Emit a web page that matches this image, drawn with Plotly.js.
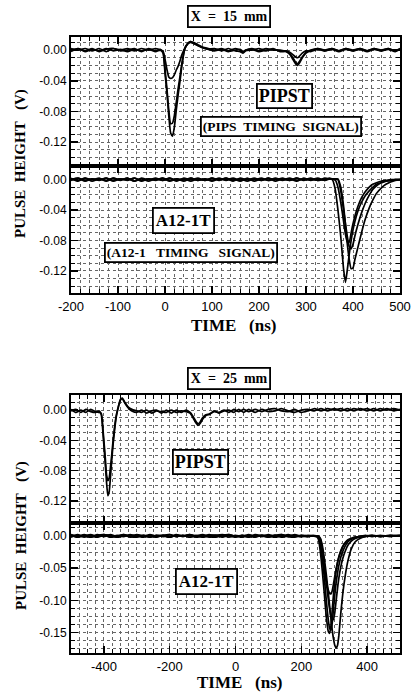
<!DOCTYPE html>
<html>
<head>
<meta charset="utf-8">
<script src="https://cdn.plot.ly/plotly-3.0.1.min.js"></script>
<style>html,body{margin:0;padding:0;background:#fff;}#chart{width:411px;height:692px;}</style>
</head>
<body>
<div id="chart"></div>
<script>
// ---------- Figure 1 (X = 15 mm) : PIPST panel ----------
const t1 = [-200,-185,-170,-155,-140,-125,-110,-95,-80,-65,
            -50,-35,-20,-10,-4,0,4,8,12,16,
            20,24,28,32,36,42,48,54,60,70,
            80,92,105,120,135,150,160,166,172,185,
            200,215,230,245,258,266,272,278,282,286,
            292,300,310,325,340,355,370,385,400,415,
            430,445,460,475,490,500];
const pips15A = [0.002,0.000,0.002,-0.001,0.002,-0.002,0.002,0.000,0.002,-0.001,
                 0.002,0.000,0.002,0.000,-0.004,-0.030,-0.055,-0.085,-0.108,-0.112,
                 -0.100,-0.078,-0.058,-0.040,-0.020,0.002,0.008,0.011,0.010,0.007,
                 0.004,0.002,0.000,0.002,-0.001,0.002,0.000,-0.003,0.000,0.002,
                 -0.001,0.002,0.000,0.000,-0.002,-0.006,-0.012,-0.018,-0.020,-0.017,
                 -0.010,-0.004,-0.001,0.002,0.000,0.002,-0.001,0.002,0.000,0.002,
                 -0.001,0.002,0.000,0.002,-0.001,0.001];
const pips15B = [-0.002,0.002,-0.001,0.002,-0.002,0.001,0.002,-0.001,0.000,0.002,
                 -0.002,0.002,-0.001,0.001,-0.003,-0.025,-0.050,-0.078,-0.096,-0.095,
                 -0.085,-0.068,-0.050,-0.034,-0.017,0.001,0.008,0.011,0.009,0.006,
                 0.003,0.001,0.002,-0.001,0.002,-0.001,-0.002,-0.004,-0.001,0.000,
                 0.002,-0.001,0.002,-0.002,-0.002,-0.005,-0.010,-0.016,-0.018,-0.015,
                 -0.009,-0.003,0.000,0.002,-0.001,0.002,-0.001,0.002,-0.001,0.002,
                 -0.001,0.002,-0.001,0.002,-0.001,0.002];
const pips15C = [0.000,0.002,-0.002,0.001,-0.001,0.002,-0.001,0.001,-0.002,0.001,
                 -0.001,0.001,-0.002,0.000,-0.002,-0.012,-0.025,-0.035,-0.037,-0.036,
                 -0.032,-0.026,-0.021,-0.014,-0.006,0.002,0.008,0.010,0.009,0.006,
                 0.003,0.001,-0.001,0.001,-0.002,0.000,0.001,-0.002,0.000,0.001,
                 -0.002,0.000,0.001,-0.001,-0.001,-0.003,-0.006,-0.009,-0.010,-0.008,
                 -0.004,-0.001,-0.002,0.001,-0.001,0.001,-0.002,0.001,-0.001,0.001,
                 -0.002,0.001,-0.001,0.001,-0.002,0.001];

// ---------- Figure 1 (X = 15 mm) : A12-1T panel ----------
const t2 = [-200,-185,-170,-155,-140,-125,-110,-95,-80,-65,
            -50,-35,-20,-5,10,25,40,55,70,85,
            100,115,130,145,160,175,190,205,220,235,
            250,265,280,295,310,325,340,350,356,362,
            368,374,380,384,388,392,396,400,404,410,
            418,426,434,442,450,460,470,480,490,500];
const a1215A = [0.002,-0.002,0.002,0.000,0.002,-0.002,0.002,0.000,0.002,-0.002,
                0.002,0.000,0.002,-0.001,0.002,-0.002,0.002,0.000,0.002,-0.001,
                0.002,0.000,0.002,-0.002,0.002,0.000,0.002,-0.001,0.002,0.000,
                0.002,-0.001,0.002,0.000,0.002,-0.001,0.002,0.001,0.000,-0.012,
                -0.040,-0.075,-0.118,-0.135,-0.118,-0.098,-0.080,-0.066,-0.055,-0.042,
                -0.030,-0.021,-0.015,-0.010,-0.006,-0.004,-0.002,-0.001,0.000,0.000];
const a1215B = [-0.001,0.002,-0.002,0.001,-0.001,0.002,-0.002,0.001,-0.001,0.002,
                -0.002,0.001,-0.001,0.002,-0.001,0.001,-0.002,0.002,-0.001,0.001,
                -0.001,0.002,-0.001,0.001,-0.002,0.002,-0.002,0.001,-0.001,0.002,
                -0.001,0.001,-0.002,0.002,-0.001,0.001,-0.001,0.002,0.001,0.000,
                -0.010,-0.030,-0.055,-0.072,-0.082,-0.082,-0.070,-0.058,-0.048,-0.036,
                -0.024,-0.016,-0.010,-0.006,-0.004,-0.002,-0.001,0.000,0.000,0.000];
const a1215C = [0.001,-0.001,0.002,-0.002,0.001,-0.001,0.002,-0.001,0.002,-0.002,
                0.001,-0.002,0.001,-0.001,0.002,-0.001,0.001,-0.002,0.001,-0.001,
                0.002,-0.001,0.002,-0.001,0.001,-0.002,0.001,-0.001,0.002,-0.002,
                0.001,-0.001,0.002,-0.001,0.001,-0.001,0.001,0.001,0.001,0.001,
                0.000,-0.015,-0.040,-0.058,-0.075,-0.088,-0.091,-0.085,-0.074,-0.060,
                -0.044,-0.031,-0.021,-0.013,-0.008,-0.004,-0.002,-0.001,0.000,0.000];
const a1215D = [0.000,0.002,-0.001,0.001,0.000,0.002,-0.001,0.001,0.000,0.002,
                -0.001,0.001,0.000,0.002,-0.002,0.001,0.000,0.002,-0.001,0.001,
                -0.002,0.001,0.000,0.002,-0.001,0.001,0.000,0.002,-0.001,0.001,
                0.000,0.002,-0.001,0.001,0.000,0.002,-0.001,0.001,0.001,0.001,
                0.001,-0.010,-0.035,-0.060,-0.085,-0.105,-0.117,-0.116,-0.105,-0.090,
                -0.070,-0.052,-0.038,-0.027,-0.018,-0.011,-0.006,-0.003,-0.001,0.000];

// ---------- Figure 2 (X = 25 mm) : PIPST panel ----------
const t3 = [-500,-485,-470,-455,-440,-425,-415,-408,-402,-396,
            -392,-388,-384,-380,-376,-372,-368,-362,-356,-350,
            -344,-336,-326,-315,-300,-285,-270,-255,-240,-225,
            -210,-195,-180,-165,-150,-138,-128,-120,-114,-108,
            -100,-90,-80,-65,-50,-35,-20,-5,10,25,
            40,60,80,100,120,140,160,180,200,220,
            240,260,280,300,320,340,360,380,400,420,
            440,460,480,500];
const pips25A = [-0.001,0.001,-0.003,0.001,-0.002,-0.003,-0.001,-0.006,-0.035,-0.070,
                 -0.095,-0.113,-0.108,-0.088,-0.065,-0.045,-0.028,-0.008,0.004,0.014,
                 0.016,0.010,0.004,0.001,-0.001,-0.003,0.000,-0.004,-0.001,-0.002,
                 -0.003,0.000,-0.003,-0.001,-0.002,-0.004,-0.011,-0.017,-0.020,-0.018,
                 -0.012,-0.007,-0.005,-0.002,-0.003,0.000,-0.003,0.001,-0.002,0.001,
                 -0.002,0.001,-0.002,0.001,0.002,-0.001,-0.002,0.001,-0.003,-0.001,
                 0.002,-0.001,0.002,0.000,0.002,-0.001,0.002,0.000,0.002,-0.001,
                 0.002,0.000,0.002,0.000];
const pips25B = [0.001,-0.003,0.000,-0.003,0.001,-0.002,-0.003,-0.004,-0.030,-0.062,
                 -0.085,-0.093,-0.090,-0.075,-0.058,-0.040,-0.024,-0.006,0.005,0.013,
                 0.015,0.009,0.003,-0.001,-0.003,0.000,-0.004,-0.001,0.000,-0.004,
                 0.000,-0.004,0.000,-0.003,0.000,-0.003,-0.009,-0.015,-0.018,-0.016,
                 -0.010,-0.006,-0.006,-0.001,-0.004,-0.001,0.000,-0.003,0.001,-0.003,
                 0.001,-0.003,0.001,-0.002,-0.001,0.002,-0.001,-0.003,0.000,0.001,
                 -0.001,0.002,-0.001,0.002,-0.001,0.002,-0.001,0.002,-0.001,0.002,
                 -0.001,0.002,-0.001,0.001];

// ---------- Figure 2 (X = 25 mm) : A12-1T panel ----------
const t4 = [-500,-480,-460,-440,-420,-400,-380,-360,-340,-320,
            -300,-280,-260,-240,-220,-200,-180,-160,-140,-120,
            -100,-80,-60,-40,-20,0,20,40,60,80,
            100,120,140,160,180,200,220,235,245,252,
            258,264,270,276,282,286,290,294,298,302,
            306,310,314,320,326,334,342,352,364,378,
            395,415,440,470,500];
const a1225A = [0.002,-0.001,0.002,-0.002,0.002,-0.001,0.002,-0.001,0.002,-0.002,
                0.001,-0.001,0.002,-0.001,0.001,-0.002,0.002,-0.001,0.002,-0.001,
                0.001,-0.002,0.001,-0.001,0.002,-0.001,0.001,-0.002,0.001,-0.001,
                0.002,-0.001,0.002,-0.001,0.002,-0.001,0.001,0.000,0.000,-0.005,
                -0.025,-0.055,-0.090,-0.125,-0.148,-0.151,-0.140,-0.115,-0.090,-0.070,
                -0.054,-0.042,-0.033,-0.023,-0.016,-0.010,-0.006,-0.004,-0.002,-0.001,
                0.001,-0.001,0.001,-0.001,0.001];
const a1225B = [-0.001,0.002,-0.002,0.001,-0.001,0.002,-0.002,0.001,-0.001,0.002,
                -0.001,0.001,-0.002,0.001,-0.001,0.002,-0.001,0.001,-0.002,0.001,
                -0.001,0.002,-0.001,0.001,-0.002,0.001,-0.001,0.002,-0.001,0.001,
                -0.002,0.001,-0.001,0.002,-0.001,0.001,-0.001,0.001,0.000,-0.002,
                -0.012,-0.035,-0.065,-0.100,-0.130,-0.143,-0.146,-0.135,-0.112,-0.090,
                -0.072,-0.058,-0.046,-0.033,-0.024,-0.015,-0.009,-0.005,-0.003,-0.001,
                0.000,0.001,-0.001,0.001,0.000];
const a1225C = [0.001,-0.002,0.000,0.002,-0.001,0.001,-0.002,0.000,0.002,-0.001,
                -0.002,0.001,0.000,-0.002,0.001,0.002,-0.001,0.001,-0.002,0.000,
                0.002,-0.001,-0.002,0.001,0.002,-0.001,0.000,-0.002,0.002,0.000,
                -0.002,0.001,0.002,-0.001,-0.002,0.001,0.000,0.000,0.000,0.000,
                -0.004,-0.015,-0.035,-0.060,-0.088,-0.108,-0.128,-0.146,-0.160,-0.170,
                -0.174,-0.170,-0.155,-0.120,-0.090,-0.060,-0.038,-0.020,-0.009,-0.004,
                -0.001,0.001,-0.001,0.001,0.000];
const a1225D = [0.000,-0.001,0.001,0.000,-0.002,0.001,0.001,-0.002,0.000,0.001,
                0.000,-0.002,0.001,0.000,0.001,-0.002,0.001,0.000,0.001,-0.002,
                0.000,0.001,0.001,-0.002,0.001,0.000,-0.002,0.001,0.000,0.001,
                0.000,-0.002,0.000,0.001,0.000,-0.001,0.000,0.000,-0.001,-0.002,
                -0.015,-0.035,-0.055,-0.072,-0.084,-0.089,-0.090,-0.085,-0.074,-0.062,
                -0.051,-0.041,-0.033,-0.024,-0.017,-0.011,-0.007,-0.004,-0.002,-0.001,
                0.000,0.000,0.000,0.000,0.001];
const a1225E = [-0.002,0.001,0.000,-0.002,0.001,0.002,0.000,-0.002,0.001,0.000,
                0.002,0.000,-0.002,0.001,0.000,-0.002,0.001,0.000,0.002,0.000,
                -0.002,0.000,0.001,0.002,0.000,-0.002,0.001,0.000,-0.002,0.001,
                0.000,0.001,-0.002,0.000,0.001,0.000,-0.001,0.000,0.000,-0.001,
                -0.005,-0.020,-0.045,-0.072,-0.098,-0.113,-0.124,-0.130,-0.129,-0.118,
                -0.100,-0.082,-0.066,-0.048,-0.035,-0.023,-0.014,-0.008,-0.004,-0.002,
                -0.001,0.000,0.000,0.000,0.000];

// ---------- Tick labels ----------
const x15Ticks = [-200,-100,0,100,200,300,400,500];
const x15Labels = ['-200','-100','0','100','200','300','400','500'];
const x25Ticks = [-400,-200,0,200,400];
const x25Labels = ['-400','-200','0','200','400'];
const y04Ticks = [0,-0.04,-0.08,-0.12];
const y04Labels = ['0.00','-0.04','-0.08','-0.12'];
const y05Ticks = [0,-0.05,-0.10,-0.15];
const y05Labels = ['0.00','-0.05','-0.10','-0.15'];

// ---------- geometry helpers (pixel -> paper) ----------
const W = 411, H = 692;
const px = v => v / W;
const py = v => 1 - v / H;
const xDom = [px(71), px(400)];

function line(x, y, xa, ya, w) {
  return {x: x, y: y, xaxis: xa, yaxis: ya, type: 'scatter', mode: 'lines',
          line: {color: '#000', width: w || 1.7, shape: 'spline', smoothing: 0.5},
          hoverinfo: 'skip'};
}

const data = [
  line(t1, pips15C, 'x', 'y'), line(t1, pips15B, 'x', 'y'), line(t1, pips15A, 'x', 'y'),
  line(t2, a1215A, 'x2', 'y2'), line(t2, a1215B, 'x2', 'y2'), line(t2, a1215C, 'x2', 'y2'), line(t2, a1215D, 'x2', 'y2'),
  line(t3, pips25A, 'x3', 'y3'), line(t3, pips25B, 'x3', 'y3'),
  line(t4, a1225A, 'x4', 'y4'), line(t4, a1225B, 'x4', 'y4'), line(t4, a1225C, 'x4', 'y4'),
  line(t4, a1225D, 'x4', 'y4'), line(t4, a1225E, 'x4', 'y4')
];

const gridCol = '#666';
function xAxis(anchor, range, ticks, labels, minorDt, showLabels) {
  return {
    domain: xDom, anchor: anchor, range: range,
    tickmode: 'array', tickvals: ticks, ticktext: labels, showticklabels: showLabels,
    ticks: 'inside', ticklen: 7, tickwidth: 1.5, tickcolor: '#000',
    showline: true, linewidth: 2, linecolor: '#000', mirror: 'ticks',
    showgrid: true, gridcolor: gridCol, gridwidth: 1, griddash: 'dot',
    zeroline: false,
    tickfont: {family: 'Liberation Sans, Arial, sans-serif', size: 13, color: '#000'},
    minor: {tickmode: 'linear', tick0: 0, dtick: minorDt, ticks: 'inside', ticklen: 4,
            tickwidth: 1, tickcolor: '#000', showgrid: true, gridcolor: gridCol,
            gridwidth: 1, griddash: 'dot'}
  };
}
function yAxis(anchor, dom, range, ticks, labels, minorDt) {
  return {
    domain: dom, anchor: anchor, range: range,
    tickmode: 'array', tickvals: ticks, ticktext: labels,
    ticks: 'inside', ticklen: 7, tickwidth: 1.5, tickcolor: '#000',
    showline: true, linewidth: 2, linecolor: '#000', mirror: 'ticks',
    showgrid: true, gridcolor: gridCol, gridwidth: 1, griddash: 'dot',
    zeroline: false,
    tickfont: {family: 'Liberation Sans, Arial, sans-serif', size: 12, color: '#000'},
    minor: {tickmode: 'linear', tick0: 0, dtick: minorDt, ticks: 'inside', ticklen: 4,
            tickwidth: 1, tickcolor: '#000', showgrid: true, gridcolor: gridCol,
            gridwidth: 1, griddash: 'dot'}
  };
}

const serif = 'Liberation Serif, DejaVu Serif, serif';
function boxNote(text, cx, cy, size, pad) {
  return {text: text, xref: 'paper', yref: 'paper', x: px(cx), y: py(cy),
          xanchor: 'center', yanchor: 'middle', showarrow: false,
          font: {family: serif, size: size, color: '#000', weight: 'bold'},
          bgcolor: '#fff', bordercolor: '#000', borderwidth: 1.8, borderpad: pad};
}
function plainNote(text, cx, cy, size, angle) {
  return {text: text, xref: 'paper', yref: 'paper', x: px(cx), y: py(cy),
          xanchor: 'center', yanchor: 'middle', showarrow: false, textangle: angle || 0,
          font: {family: serif, size: size, color: '#000', weight: 'bold'}};
}
const sp = '\u00a0';

const layout = {
  width: W, height: H, margin: {l: 0, r: 0, t: 0, b: 0},
  paper_bgcolor: '#fff', plot_bgcolor: '#fff', showlegend: false,
  xaxis:  xAxis('y',  [-200, 500], x15Ticks, x15Labels, 20, false),
  xaxis2: xAxis('y2', [-200, 500], x15Ticks, x15Labels, 20, true),
  xaxis3: xAxis('y3', [-500, 500], x25Ticks, x25Labels, 25, false),
  xaxis4: xAxis('y4', [-500, 500], x25Ticks, x25Labels, 25, true),
  yaxis:  yAxis('x',  [py(166), py(37)],  [-0.151, 0.017], y04Ticks, y04Labels, 0.01),
  yaxis2: yAxis('x2', [py(293), py(166)], [-0.149, 0.018], y04Ticks, y04Labels, 0.01),
  yaxis3: yAxis('x3', [py(523), py(395)], [-0.149, 0.020], y04Ticks, y04Labels, 0.01),
  yaxis4: yAxis('x4', [py(653), py(523)], [-0.1815, 0.020], y05Ticks, y05Labels, 0.0125),
  annotations: [
    boxNote('X' + sp + sp + '=' + sp + sp + '15' + sp + sp + 'mm', 229, 17, 14, 2),
    boxNote('X' + sp + sp + '=' + sp + sp + '25' + sp + sp + 'mm', 229, 378, 14, 2),
    boxNote('PIPST', 284, 96, 18, 1),
    boxNote('(PIPS' + sp + sp + 'TIMING' + sp + sp + 'SIGNAL)', 281, 127, 13.5, 1),
    boxNote('A12-1T', 183, 220, 17, 2),
    boxNote('(A12-1' + sp + sp + sp + 'TIMING' + sp + sp + sp + 'SIGNAL)', 191, 252, 13.5, 1),
    boxNote('PIPST', 200, 462, 18, 1),
    boxNote('A12-1T', 206, 581, 17, 2),
    plainNote('TIME' + sp + sp + sp + '(ns)', 233, 325, 17),
    plainNote('TIME' + sp + sp + sp + '(ns)', 240, 682, 17),
    plainNote('PULSE' + sp + sp + 'HEIGHT' + sp + sp + sp + '(V)', 21, 164, 15, -90),
    plainNote('PULSE' + sp + sp + 'HEIGHT' + sp + sp + sp + '(V)', 21, 536, 15, -90)
  ]
};

Plotly.newPlot('chart', data, layout, {staticPlot: true, displayModeBar: false});
</script>
</body>
</html>
